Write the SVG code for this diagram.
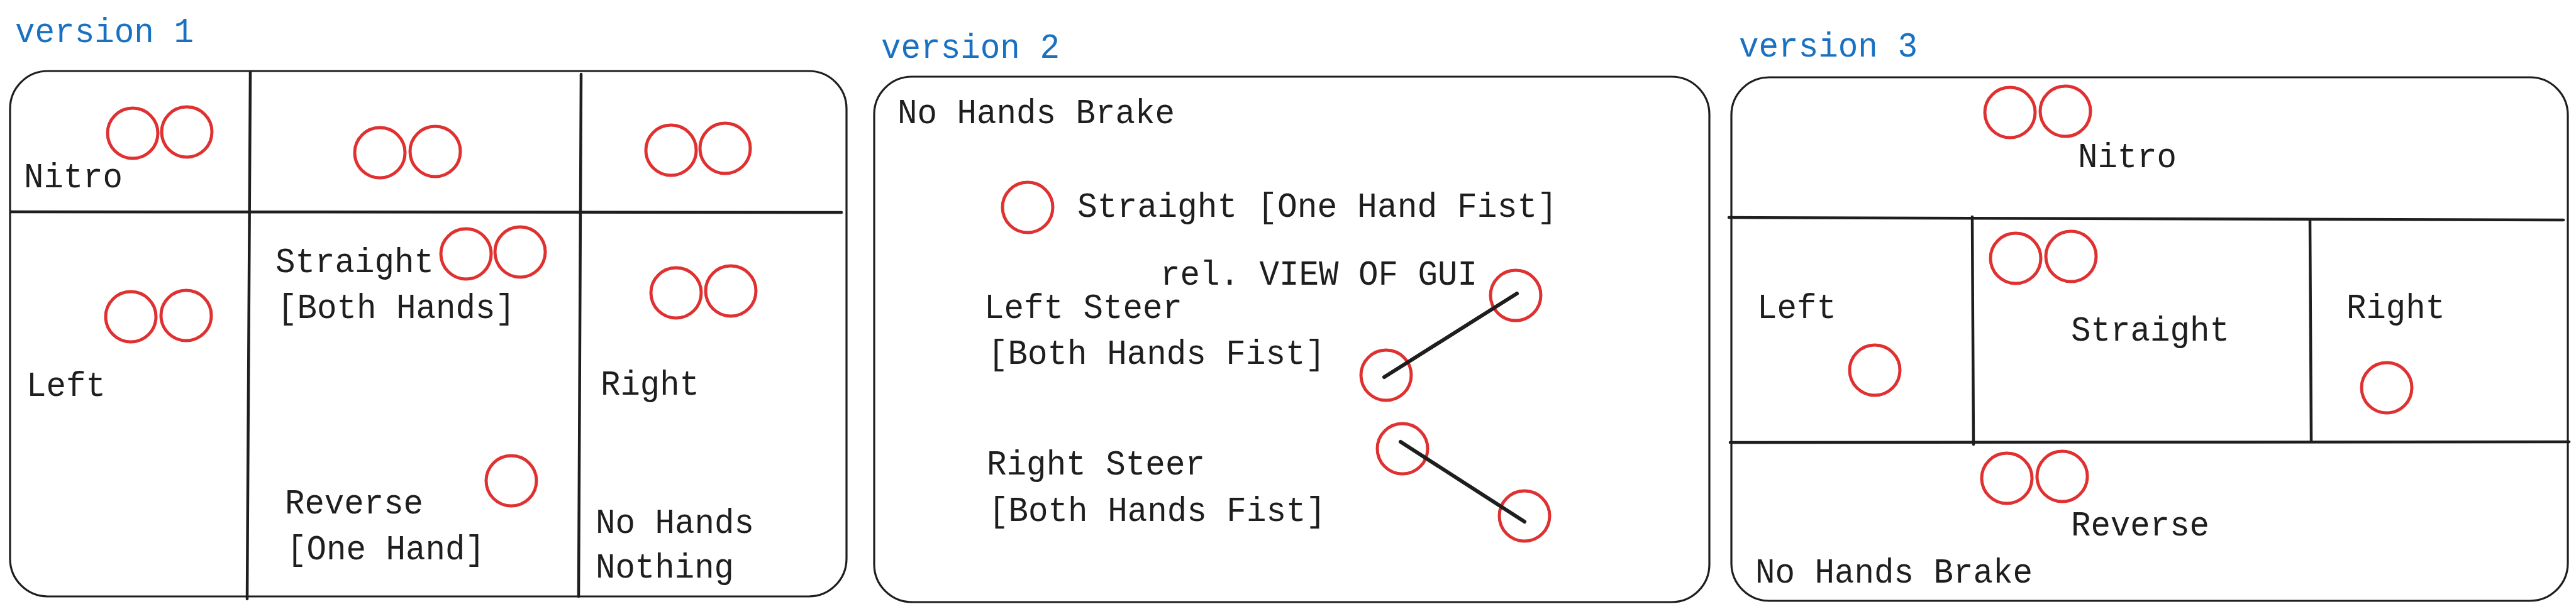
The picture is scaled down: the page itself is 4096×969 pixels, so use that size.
<svg xmlns="http://www.w3.org/2000/svg" width="4096" height="969" viewBox="0 0 4096 969">
<style>
.t{font-family:"Liberation Mono","DejaVu Sans Mono",monospace;font-size:56px;fill:#1e1e1e}
.v{font-family:"Liberation Mono","DejaVu Sans Mono",monospace;font-size:56px;fill:#1971c2}
.box{fill:none;stroke:#1e1e1e;stroke-width:3.2}
.div{fill:none;stroke:#1e1e1e;stroke-width:4.5;stroke-linecap:round}
.c{fill:none;stroke:#e03131;stroke-width:5}
.bar{fill:none;stroke:#1e1e1e;stroke-width:6;stroke-linecap:round}
</style>
<rect width="4096" height="969" fill="#ffffff"/>

<g id="version1">
  <text class="v" x="24" y="67" textLength="284" lengthAdjust="spacingAndGlyphs">version 1</text>
  <rect class="box" x="16" y="113" width="1330" height="836" rx="60"/>
  <line class="div" x1="18" y1="337" x2="1338" y2="338"/>
  <line class="div" x1="398" y1="115" x2="393" y2="953"/>
  <line class="div" x1="924" y1="118" x2="920" y2="949"/>
  <circle class="c" cx="211" cy="212" r="40"/>
  <circle class="c" cx="297" cy="210" r="40"/>
  <circle class="c" cx="604" cy="243" r="40"/>
  <circle class="c" cx="692" cy="241" r="40"/>
  <circle class="c" cx="1067" cy="239" r="40"/>
  <circle class="c" cx="1153" cy="236" r="40"/>
  <circle class="c" cx="741" cy="404" r="40"/>
  <circle class="c" cx="827" cy="401" r="40"/>
  <circle class="c" cx="208" cy="504" r="40"/>
  <circle class="c" cx="296" cy="502" r="40"/>
  <circle class="c" cx="1075" cy="466" r="40"/>
  <circle class="c" cx="1162" cy="463" r="40"/>
  <circle class="c" cx="813" cy="765" r="40"/>
  <text class="t" x="38" y="298" textLength="157" lengthAdjust="spacingAndGlyphs">Nitro</text>
  <text class="t" x="438" y="433" textLength="252" lengthAdjust="spacingAndGlyphs">Straight</text>
  <text class="t" x="441" y="506" textLength="378" lengthAdjust="spacingAndGlyphs">[Both Hands]</text>
  <text class="t" x="42" y="630" textLength="126" lengthAdjust="spacingAndGlyphs">Left</text>
  <text class="t" x="955" y="628" textLength="157" lengthAdjust="spacingAndGlyphs">Right</text>
  <text class="t" x="453" y="817" textLength="220" lengthAdjust="spacingAndGlyphs">Reverse</text>
  <text class="t" x="456" y="890" textLength="315" lengthAdjust="spacingAndGlyphs">[One Hand]</text>
  <text class="t" x="947" y="848" textLength="252" lengthAdjust="spacingAndGlyphs">No Hands</text>
  <text class="t" x="947" y="919" textLength="220" lengthAdjust="spacingAndGlyphs">Nothing</text>
</g>

<g id="version2">
  <text class="v" x="1401" y="92" textLength="284" lengthAdjust="spacingAndGlyphs">version 2</text>
  <rect class="box" x="1390" y="122" width="1328" height="836" rx="60"/>
  <text class="t" x="1427" y="196" textLength="441" lengthAdjust="spacingAndGlyphs">No Hands Brake</text>
  <circle class="c" cx="1634" cy="330" r="40"/>
  <text class="t" x="1713" y="345" textLength="763" lengthAdjust="spacingAndGlyphs">Straight [One Hand Fist]</text>
  <text class="t" x="1845" y="453" textLength="504" lengthAdjust="spacingAndGlyphs">rel. VIEW OF GUI</text>
  <text class="t" x="1565" y="506" textLength="315" lengthAdjust="spacingAndGlyphs">Left Steer</text>
  <text class="t" x="1571" y="579" textLength="536" lengthAdjust="spacingAndGlyphs">[Both Hands Fist]</text>
  <text class="t" x="1569" y="755" textLength="347" lengthAdjust="spacingAndGlyphs">Right Steer</text>
  <text class="t" x="1572" y="829" textLength="536" lengthAdjust="spacingAndGlyphs">[Both Hands Fist]</text>
  <circle class="c" cx="2410" cy="470" r="40"/>
  <circle class="c" cx="2204" cy="597" r="40"/>
  <circle class="c" cx="2230" cy="714" r="40"/>
  <circle class="c" cx="2424" cy="821" r="40"/>
</g>

<g id="connectors">
  <line class="bar" x1="2201" y1="600" x2="2412" y2="467"/>
  <line class="bar" x1="2227" y1="703" x2="2424" y2="830"/>
</g>

<g id="version3">
  <text class="v" x="2765" y="90" textLength="284" lengthAdjust="spacingAndGlyphs">version 3</text>
  <rect class="box" x="2753" y="123" width="1330" height="833" rx="60"/>
  <line class="div" x1="2749" y1="346" x2="4076" y2="350"/>
  <line class="div" x1="2751" y1="704" x2="4085" y2="703"/>
  <line class="div" x1="3136" y1="345" x2="3138" y2="707"/>
  <line class="div" x1="3673" y1="351" x2="3675" y2="702"/>
  <circle class="c" cx="3196" cy="179" r="40"/>
  <circle class="c" cx="3284" cy="177" r="40"/>
  <circle class="c" cx="3205" cy="411" r="40"/>
  <circle class="c" cx="3293" cy="408" r="40"/>
  <circle class="c" cx="2981" cy="589" r="40"/>
  <circle class="c" cx="3795" cy="617" r="40"/>
  <circle class="c" cx="3191" cy="761" r="40"/>
  <circle class="c" cx="3279" cy="758" r="40"/>
  <text class="t" x="3304" y="266" textLength="157" lengthAdjust="spacingAndGlyphs">Nitro</text>
  <text class="t" x="2794" y="506" textLength="126" lengthAdjust="spacingAndGlyphs">Left</text>
  <text class="t" x="3293" y="542" textLength="252" lengthAdjust="spacingAndGlyphs">Straight</text>
  <text class="t" x="3731" y="506" textLength="157" lengthAdjust="spacingAndGlyphs">Right</text>
  <text class="t" x="3293" y="852" textLength="220" lengthAdjust="spacingAndGlyphs">Reverse</text>
  <text class="t" x="2791" y="927" textLength="441" lengthAdjust="spacingAndGlyphs">No Hands Brake</text>
</g>
</svg>
